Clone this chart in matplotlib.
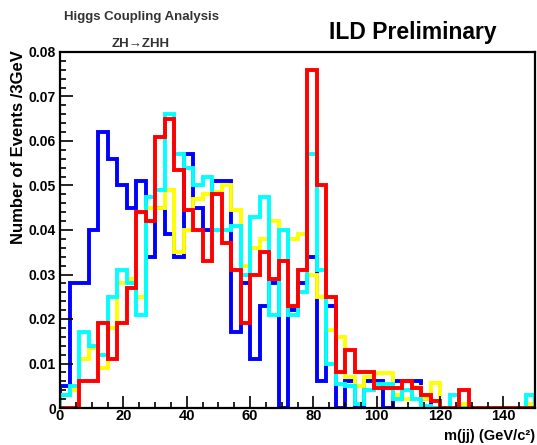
import numpy as np
import matplotlib
matplotlib.use('Agg')
import matplotlib.pyplot as plt
from matplotlib.ticker import MultipleLocator

# m(jj) histograms, 3 GeV bins from 0 to 150
edges = np.arange(0, 153, 3)

blue = [0.005, 0.028, 0.028, 0.040, 0.062, 0.056, 0.050, 0.045, 0.051, 0.034,
        0.045, 0.039, 0.034, 0.057, 0.045, 0.040, 0.051, 0.051, 0.017, 0.028,
        0.011, 0.023, 0.028, 0.000, 0.022, 0.028, 0.034, 0.006, 0.023, 0.000,
        0.006, 0.000, 0.006, 0.006, 0.000, 0.006, 0.006, 0.006, 0.002, 0.000,
        0, 0, 0, 0, 0, 0, 0, 0, 0, 0]

yellow = [0.003, 0.004, 0.011, 0.0135, 0.009, 0.018, 0.028, 0.029, 0.025, 0.045,
          0.045, 0.049, 0.035, 0.040, 0.047, 0.048, 0.0486, 0.050, 0.0445, 0.032,
          0.036, 0.038, 0.042, 0.040, 0.038, 0.039, 0.030, 0.025, 0.0175, 0.016,
          0.007, 0.005, 0.007, 0.0078, 0.0078, 0.003, 0.002, 0.0048, 0.002, 0.0056,
          0, 0, 0.001, 0, 0, 0, 0, 0, 0, 0.001]

cyan = [0.003, 0.005, 0.017, 0.014, 0.012, 0.025, 0.031, 0.028, 0.021, 0.0475,
        0.049, 0.066, 0.057, 0.054, 0.050, 0.052, 0.040, 0.040, 0.041, 0.030,
        0.043, 0.0475, 0.021, 0.040, 0.021, 0.026, 0.057, 0.031, 0.010, 0.0055,
        0.005, 0.001, 0.004, 0.0055, 0.0055, 0.002, 0.004, 0.002, 0.0005, 0,
        0, 0.003, 0, 0, 0, 0, 0, 0, 0, 0.003]

red = [0, 0, 0.006, 0.006, 0.019, 0.011, 0.019, 0.027, 0.044, 0.042,
       0.061, 0.065, 0.0535, 0.0445, 0.040, 0.033, 0.048, 0.037, 0.031, 0.019,
       0.030, 0.035, 0.029, 0.033, 0.023, 0.031, 0.076, 0.050, 0.025, 0.008,
       0.013, 0.008, 0.008, 0.0045, 0.0045, 0.0045, 0.006, 0.0045, 0.003, 0.0015,
       0, 0, 0.004, 0, 0, 0, 0, 0, 0, 0]

plt.rcParams['font.family'] = ['Liberation Sans', 'DejaVu Sans']
plt.rcParams['font.weight'] = 'bold'

fig = plt.figure(figsize=(5.37, 4.45), dpi=100)
ax = fig.add_axes([60 / 537, 1 - 408 / 445, 475 / 537, 356 / 445])

for vals, col in [(blue, '#0000ff'), (yellow, '#ffff00'),
                  (cyan, '#00ffff'), (red, '#ff0000')]:
    ax.stairs(vals, edges, color=col, linewidth=2.8, baseline=0)

ax.set_xlim(0, 150)
ax.set_ylim(0, 0.08)
ax.xaxis.set_major_locator(MultipleLocator(20))
ax.xaxis.set_minor_locator(MultipleLocator(5))
ax.yaxis.set_major_locator(MultipleLocator(0.01))
ax.yaxis.set_minor_locator(MultipleLocator(0.002))
ax.tick_params(which='both', direction='in', top=False, right=False, width=1.2)
ax.tick_params(axis='y', labelsize=10, pad=3)
ax.tick_params(axis='x', labelsize=10.5, pad=1)
ax.tick_params(which='major', length=9)
ax.tick_params(which='minor', length=4.5)
ax.yaxis.set_major_formatter(plt.FuncFormatter(
    lambda v, p: '0' if v == 0 else f'{v:.2f}'))
for s in ax.spines.values():
    s.set_linewidth(1.6)

ax.set_xlabel('m(jj) (GeV/c\u00b2)', fontsize=10.5, fontweight='bold',
              loc='right', va='bottom')
ax.xaxis.set_label_coords(1.0, -35 / 356)
ax.set_ylabel('Number of Events /3GeV', fontsize=12, fontweight='bold',
              loc='top')
ax.yaxis.set_label_coords(-0.072, 1.005)

fig.text(141 / 537, 1 - 17 / 445, 'Higgs Coupling Analysis', fontsize=9.5,
         fontweight='bold', ha='center', va='center', color='#333333')
fig.text(141 / 537, 1 - 44 / 445, 'ZH\u2192ZHH', fontsize=9.5,
         fontweight='bold', ha='center', va='center', color='#333333')
fig.text(413 / 537, 1 - 33 / 445, 'ILD Preliminary', fontsize=16.5,
         fontweight='bold', ha='center', va='center')

fig.savefig('out.png', dpi=100)
